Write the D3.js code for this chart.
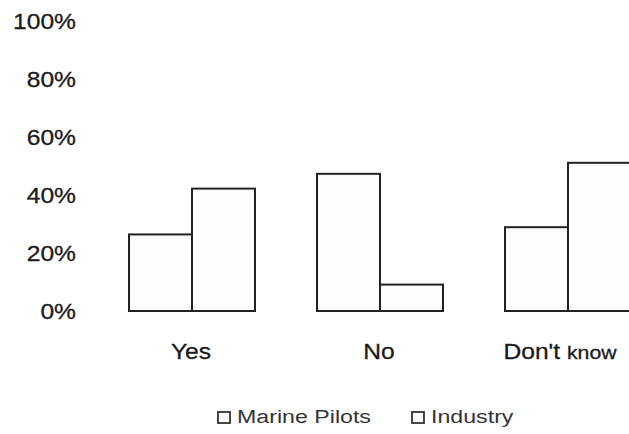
<html>
<head>
<script src="https://d3js.org/d3.v7.min.js"></script>
<style>
 body { margin: 0; background: #fff; }
 text { font-family: "Liberation Sans", Arial, sans-serif; fill: #1a1a1a; }
</style>
</head>
<body>
<svg width="629" height="434"></svg>
<script>
// answers and the two groups asked
var categories = ["Yes", "No", "Don't know"];
var series = ["Marine Pilots", "Industry"];
var marinePilots = [26.4, 47.3, 28.9];
var industry = [42.2, 9.1, 51.1];
var yTicks = [0, 20, 40, 60, 80, 100];

var svg = d3.select("svg");

var y = d3.scaleLinear().domain([0, 100]).range([311, 21]);

var x = d3.scaleBand()
  .domain(categories)
  .range([98, 662])
  .paddingInner(0.33)
  .paddingOuter(0.165);

var xs = d3.scaleBand().domain(series).range([0, x.bandwidth()]);

var values = { "Marine Pilots": marinePilots, "Industry": industry };

// text is a bit wide in the original, so stretch it sideways
function stretched(g, px, py, sx) {
  return g.append("text")
    .attr("transform", "translate(" + px + "," + py + ") scale(" + sx + ",1)");
}

// y labels, no axis line
yTicks.forEach(function(t) {
  stretched(svg, 76, y(t), 1.12)
    .attr("text-anchor", "end")
    .attr("dy", "0.35em")
    .style("font-size", "22px")
    .style("stroke", "#1a1a1a")
    .style("stroke-width", 0.3)
    .text(t + "%");
});

// bars
var groups = svg.selectAll("g.cat")
  .data(categories)
  .enter().append("g")
  .attr("class", "cat")
  .attr("transform", function(d) { return "translate(" + x(d) + ",0)"; });

groups.selectAll("rect")
  .data(function(d, i) { return series.map(function(s) { return { s: s, v: values[s][i] }; }); })
  .enter().append("rect")
  .attr("x", function(d) { return xs(d.s); })
  .attr("y", function(d) { return y(d.v); })
  .attr("width", xs.bandwidth())
  .attr("height", function(d) { return y(0) - y(d.v); })
  .attr("fill", "#fdfdfd")
  .attr("stroke", "#222")
  .attr("stroke-width", 2);

// category labels
categories.forEach(function(c) {
  var cx = x(c) + x.bandwidth() / 2;
  var t;
  if (c == "Don't know") {
    t = stretched(svg, cx - 8, 359, 1.12).attr("text-anchor", "middle");
    t.append("tspan").style("font-size", "22px").text("Don't ");
    t.append("tspan").style("font-size", "19px").text("know");
  } else {
    t = stretched(svg, cx - 1, 359, 1.12)
      .attr("text-anchor", "middle")
      .style("font-size", "22px")
      .text(c);
  }
  t.style("stroke", "#1a1a1a").style("stroke-width", 0.3);
});

// legend
var legendX = [218, 412];
series.forEach(function(s, i) {
  svg.append("rect")
    .attr("x", legendX[i])
    .attr("y", 412)
    .attr("width", 12)
    .attr("height", 11)
    .attr("fill", "#fff")
    .attr("stroke", "#333")
    .attr("stroke-width", 1.8);
  stretched(svg, legendX[i] + 19, 423, 1.22)
    .style("font-size", "19px")
    .style("fill", "#333")
    .text(s);
});
</script>
</body>
</html>
